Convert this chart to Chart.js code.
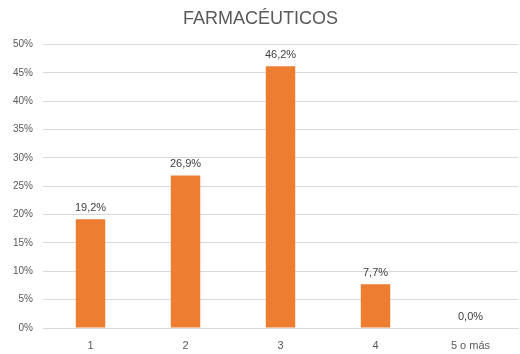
<!DOCTYPE html>
<html><head><meta charset="utf-8">
<script src="https://cdn.jsdelivr.net/npm/chart.js@4.4.0/dist/chart.umd.min.js"></script>
<style>html,body{margin:0;padding:0;background:#fff}#w{width:520px;height:354px}</style>
</head><body><div id="w"><canvas id="c"></canvas></div>
<script>
const categories = ["1", "2", "3", "4", "5 o más"];
const values = [19.2, 26.9, 46.2, 7.7, 0.0];
const yTicks = [0, 5, 10, 15, 20, 25, 30, 35, 40, 45, 50];

const labelPlugin = {
  id: 'labels',
  afterDatasetsDraw(chart) {
    const ctx = chart.ctx;
    const meta = chart.getDatasetMeta(0);
    ctx.save();
    ctx.font = '11px "Liberation Sans", Arial, sans-serif';
    ctx.fillStyle = '#404040';
    ctx.textAlign = 'center';
    ctx.textBaseline = 'bottom';
    meta.data.forEach((bar, i) => {
      ctx.fillText(values[i].toFixed(1).replace('.', ',') + '%', bar.x, bar.y - 6);
    });
    ctx.restore();
  }
};

new Chart(document.getElementById('c'), {
  type: 'bar',
  data: { labels: categories, datasets: [{ data: values, backgroundColor: '#ED7D31', barPercentage: 0.31, categoryPercentage: 1 }] },
  options: {
    responsive: true, maintainAspectRatio: false, animation: false,
    layout: { padding: { left: 3, right: 2, top: 0, bottom: 0 } },
    plugins: {
      legend: { display: false }, tooltip: { enabled: false },
      title: { display: true, text: 'FARMACÉUTICOS', color: '#595959',
        font: { family: '"Liberation Sans", Arial, sans-serif', size: 18, weight: 'normal' },
        padding: { top: 8, bottom: 15 } }
    },
    scales: {
      x: { grid: { display: false, drawTicks: false }, border: { color: '#d9d9d9' },
        afterFit: s => { s.height = 26; },
        ticks: { color: '#595959', font: { family: '"Liberation Sans", Arial, sans-serif', size: 11 }, padding: 11 } },
      y: { min: 0, max: 50, afterBuildTicks: s => { s.ticks = yTicks.map(v => ({ value: v })); },
        grid: { color: '#d9d9d9', drawTicks: false }, border: { display: false },
        ticks: { color: '#595959', font: { family: '"Liberation Sans", Arial, sans-serif', size: 10 }, padding: 10,
          callback: v => v + '%' } }
    }
  },
  plugins: [labelPlugin]
});
</script></body></html>
